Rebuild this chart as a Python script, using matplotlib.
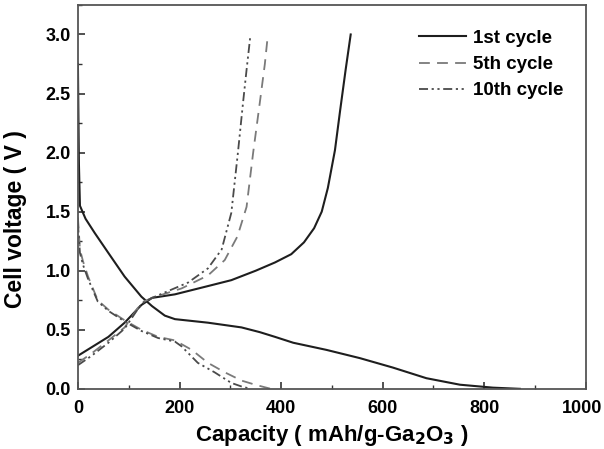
import matplotlib
matplotlib.use("Agg")
import matplotlib.pyplot as plt
from matplotlib.ticker import MultipleLocator
from matplotlib.transforms import ScaledTranslation

plt.rcParams['font.family'] = ['Liberation Sans', 'DejaVu Sans']
plt.rcParams['font.weight'] = 'bold'
plt.rcParams['mathtext.default'] = 'bf'

# 1st cycle
dis1_x = [0, 1, 2, 4, 15, 33, 60, 92, 125, 146, 171, 191, 256, 322, 358, 388, 424, 489, 555, 620, 686, 752, 817, 870]
dis1_y = [2.75, 2.3, 1.9, 1.55, 1.44, 1.32, 1.15, 0.95, 0.78, 0.70, 0.62, 0.59, 0.56, 0.52, 0.48, 0.44, 0.39, 0.33, 0.26, 0.18, 0.09, 0.035, 0.01, 0.0]
chg1_x = [0, 30, 60, 92, 125, 146, 191, 256, 302, 350, 388, 420, 445, 465, 480, 492, 506, 516, 527, 537]
chg1_y = [0.28, 0.36, 0.44, 0.56, 0.71, 0.77, 0.80, 0.87, 0.92, 1.00, 1.07, 1.14, 1.24, 1.36, 1.50, 1.70, 2.02, 2.35, 2.70, 3.0]

# 5th cycle
dis5_x = [0, 4, 10, 20, 39, 60, 92, 125, 158, 191, 224, 256, 289, 322, 345, 362, 380]
dis5_y = [1.45, 1.18, 1.08, 0.95, 0.75, 0.67, 0.58, 0.50, 0.44, 0.41, 0.33, 0.22, 0.14, 0.07, 0.04, 0.02, 0.0]
chg5_x = [0, 27, 60, 92, 125, 146, 204, 256, 289, 314, 332, 345, 358, 368, 374]
chg5_y = [0.22, 0.30, 0.41, 0.52, 0.73, 0.77, 0.85, 0.96, 1.09, 1.29, 1.54, 2.0, 2.42, 2.75, 3.0]

# 10th cycle
dis10_x = [0, 4, 10, 20, 39, 60, 92, 125, 158, 191, 204, 236, 269, 302, 322, 340]
dis10_y = [1.40, 1.15, 1.05, 0.93, 0.74, 0.66, 0.57, 0.49, 0.43, 0.40, 0.36, 0.22, 0.14, 0.05, 0.02, 0.0]
chg10_x = [0, 27, 60, 92, 125, 146, 217, 256, 283, 302, 315, 325, 332, 339]
chg10_y = [0.20, 0.28, 0.39, 0.51, 0.72, 0.77, 0.90, 1.02, 1.18, 1.49, 2.0, 2.42, 2.7, 2.97]

xticks = [0, 200, 400, 600, 800, 1000]

fig = plt.figure(figsize=(6.04, 4.49), dpi=100)
ax = fig.add_axes([0.129, 0.134, 0.841, 0.855])

c1, c5, c10 = '#1e1e1e', '#7a7a7a', '#4a4a4a'
ax.plot(dis1_x, dis1_y, color=c1, lw=1.5, label='1st cycle')
ax.plot(chg1_x, chg1_y, color=c1, lw=1.5)
ax.plot(dis5_x, dis5_y, color=c5, lw=1.3, ls=(0, (6, 4)), label='5th cycle')
ax.plot(chg5_x, chg5_y, color=c5, lw=1.3, ls=(0, (6, 4)))
ax.plot(dis10_x, dis10_y, color=c10, lw=1.3, ls=(0, (5, 2, 1.2, 2, 1.2, 2)), label='10th cycle')
ax.plot(chg10_x, chg10_y, color=c10, lw=1.3, ls=(0, (5, 2, 1.2, 2, 1.2, 2)))

ax.set_xlim(0, 1000)
ax.set_ylim(0, 3.25)
ax.set_xticks(xticks, [str(v) for v in xticks])
ax.xaxis.set_minor_locator(MultipleLocator(100))
ax.yaxis.set_major_locator(MultipleLocator(0.5))
ax.yaxis.set_minor_locator(MultipleLocator(0.25))
ax.yaxis.set_major_formatter(plt.FormatStrFormatter('%.1f'))
ax.tick_params(which='both', direction='in', labelsize=13, color='#333333')
ax.tick_params(which='major', length=5, width=1.2)
ax.tick_params(which='minor', length=3, width=1.0)
ax.tick_params(axis='x', pad=8)
ax.tick_params(axis='y', pad=5)
for s in ax.spines.values():
    s.set_color('#555555')
    s.set_linewidth(1.3)

ax.set_xlabel('Capacity ( mAh/g-Ga$_2$O$_3$ )', fontsize=16, fontweight='bold', labelpad=4)
ax.set_ylabel('Cell voltage ( V )', fontsize=16.5, fontweight='bold')
ax.yaxis.set_label_coords(-0.100, 0.443)

ax.legend(loc='upper left', frameon=False, fontsize=13.5, handlelength=2.5,
          handletextpad=0.37, labelspacing=0.48, borderpad=0, borderaxespad=0,
          bbox_to_anchor=(0.671, 0.935))

# nudge the "1000" label a little left so it stays inside the canvas
lab = ax.xaxis.get_major_ticks()[-1].label1
lab.set_transform(lab.get_transform() + ScaledTranslation(-0.04, 0, fig.dpi_scale_trans))

fig.savefig('out.png', dpi=100)
